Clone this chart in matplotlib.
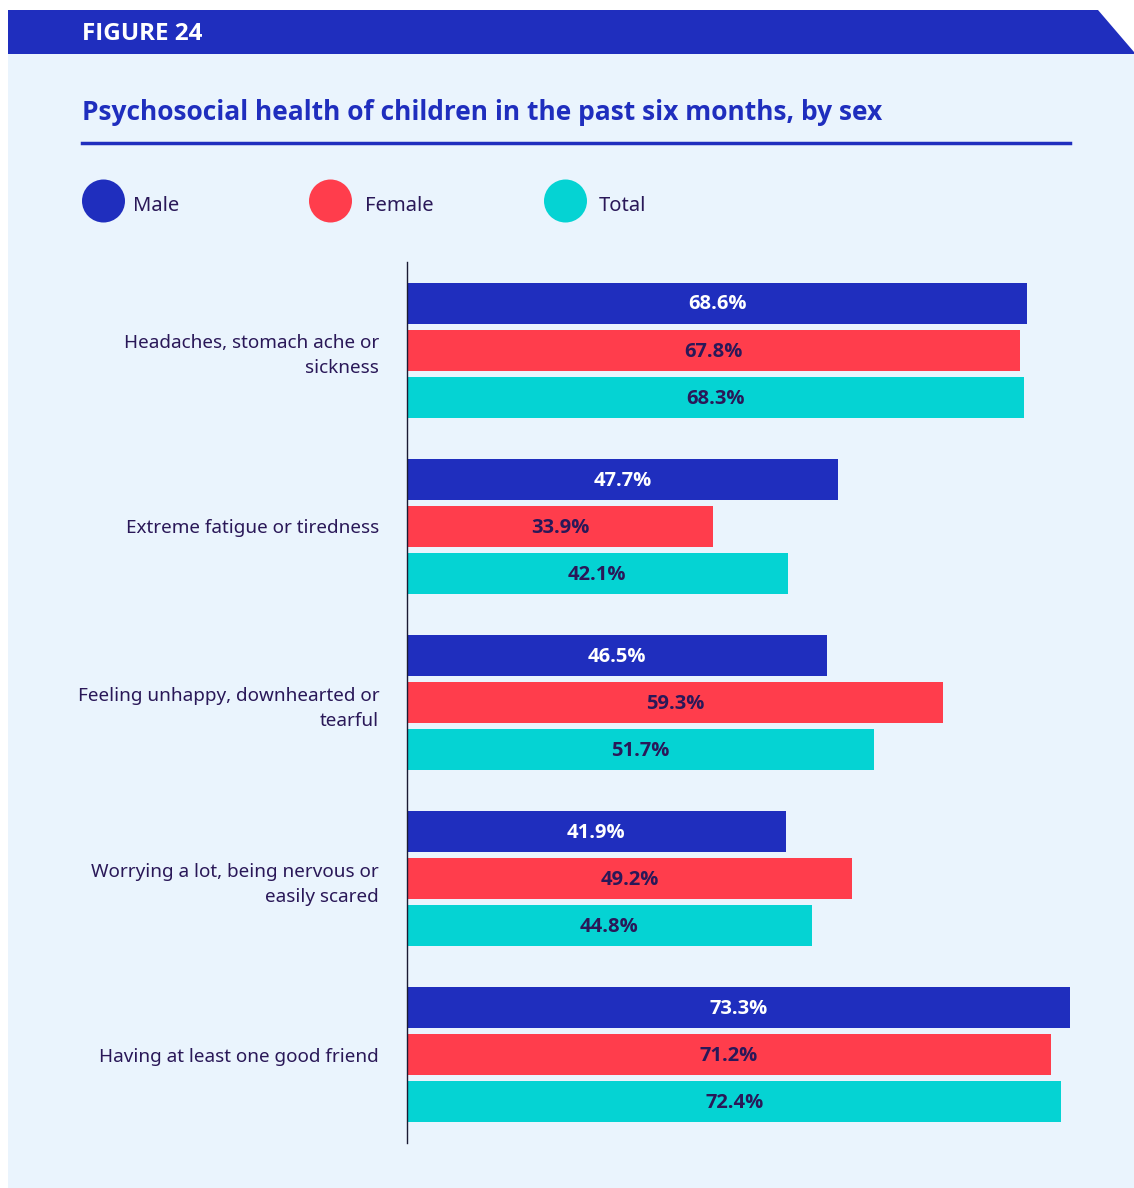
import numpy as np
import matplotlib.pyplot as plt
from matplotlib.patches import Polygon, Rectangle, Ellipse

plt.rcParams['font.family'] = ['Noto Sans', 'DejaVu Sans']
BOLD = ['Open Sans', 'DejaVu Sans']

# 数据
categories = ['Headaches, stomach ache or\nsickness',
              'Extreme fatigue or tiredness',
              'Feeling unhappy, downhearted or\ntearful',
              'Worrying a lot, being nervous or\neasily scared',
              'Having at least one good friend']
male = [68.6, 47.7, 46.5, 41.9, 73.3]
female = [67.8, 33.9, 59.3, 49.2, 71.2]
total = [68.3, 42.1, 51.7, 44.8, 72.4]
series_names = ['Male', 'Female', 'Total']

BLUE = '#1f2ebe'
RED = '#ff3d4c'
CYAN = '#05d3d3'
PANEL = '#eaf4fd'
DARK = '#2a1858'

W, H = 1134, 1188
fig = plt.figure(figsize=(W / 100, H / 100), dpi=100, facecolor='white')


def fx(px):
    return px / W


def fy(py):
    return 1 - py / H


# 背景面板和标题栏
fig.patches.append(Rectangle((fx(8), 0), 1 - fx(8), fy(54), transform=fig.transFigure,
                             facecolor=PANEL, edgecolor='none', zorder=-2))
fig.patches.append(Polygon([(fx(8), fy(10)), (fx(1098), fy(10)), (fx(1134), fy(52)),
                            (fx(1134), fy(54)), (fx(8), fy(54))], closed=True,
                           transform=fig.transFigure, facecolor=BLUE, edgecolor='none', zorder=-2))
fig.text(fx(82), fy(34), 'FIGURE 24', color='white', fontsize=17.5, fontweight='bold',
         family=BOLD, va='center', ha='left')
fig.text(fx(82), fy(112), 'Psychosocial health of children in the past six months, by sex',
         color=BLUE, fontsize=19, fontweight='bold', family=BOLD, va='center', ha='left')
fig.add_artist(plt.Line2D([fx(82), fx(1070)], [fy(143), fy(143)], color=BLUE, lw=2.5,
                          transform=fig.transFigure))

# 图例
colors = [BLUE, RED, CYAN]
legend_x = [103.5, 330.5, 565.5]
legend_tx = [133, 365, 599]
for name, c, x, tx in zip(series_names, colors, legend_x, legend_tx):
    fig.patches.append(Ellipse((fx(x), fy(201)), 43 / W, 43 / H, transform=fig.transFigure,
                               facecolor=c, edgecolor='none', zorder=-1))
    fig.text(fx(tx), fy(206), name, color=DARK, fontsize=14.5, va='center', ha='left')

# 条形图
scale = 9.04  # 每个百分点的像素
xmax = 80
ax = fig.add_axes([fx(407), fy(1143), xmax * scale / W, (1143 - 262) / H])
ax.set_facecolor('none')
ax.set_zorder(1)

y = np.arange(len(categories))
off = 47 / 176
h = 41 / 176
for vals, c, dy, tc in zip([male, female, total], colors, [-off, 0, off], ['white', DARK, DARK]):
    ax.barh(y + dy, vals, height=h, color=c, edgecolor='none')
    for yi, v in zip(y, vals):
        ax.text(v / 2, yi + dy + 0.008, f'{v}%', ha='center', va='center', color=tc,
                fontsize=14.5, fontweight='bold', family=BOLD)

ax.set_xlim(0, xmax)
ax.set_ylim(4.5, -0.5)
ax.set_yticks(y)
ax.set_yticklabels(categories, fontsize=13.6, color=DARK, linespacing=1.5)
ax.tick_params(axis='y', length=0, pad=20)
ax.set_xticks([])
for s in ['top', 'right', 'bottom']:
    ax.spines[s].set_visible(False)
ax.spines['left'].set_color('#1a1a33')
ax.spines['left'].set_linewidth(1)
for lbl in ax.get_yticklabels():
    lbl.set_multialignment('right')

fig.savefig('out.png', dpi=100, facecolor='white')
